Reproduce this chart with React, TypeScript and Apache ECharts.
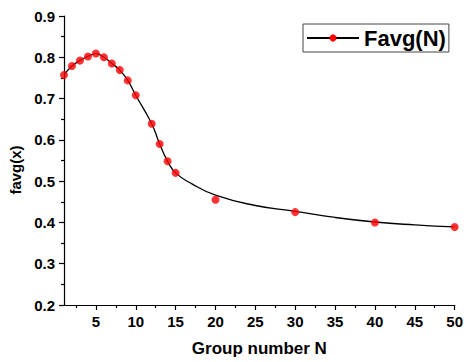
import React, { useEffect, useRef } from "react";
import * as echarts from "echarts";

// Measured points Favg(N)
const groupN = [1, 2, 3, 4, 5, 6, 7, 8, 9, 10, 12, 13, 14, 15, 20, 30, 40, 50];
const favgValues = [0.757, 0.779, 0.792, 0.802, 0.809, 0.8, 0.785, 0.769, 0.744, 0.708, 0.639, 0.59, 0.548, 0.52, 0.455, 0.425, 0.4, 0.389];

// Fitted curve
const fitN = [1, 2, 3, 4, 5, 6, 7, 8, 9, 10, 12, 13, 14, 15, 17, 20, 25, 30, 35, 40, 45, 50];
const fitValues = [0.757, 0.779, 0.792, 0.802, 0.809, 0.8, 0.785, 0.769, 0.744, 0.708, 0.639, 0.59, 0.548, 0.52, 0.494, 0.466, 0.441, 0.427, 0.412, 0.401, 0.394, 0.389];

const xMajorTicks = [5, 10, 15, 20, 25, 30, 35, 40, 45, 50];
const xMinorTicks = [2.5, 7.5, 12.5, 17.5, 22.5, 27.5, 32.5, 37.5, 42.5, 47.5];

const FONT = '"Liberation Sans", Arial, Helvetica, sans-serif';

export default function App() {
  const ref = useRef<HTMLDivElement>(null);
  useEffect(() => {
    if (!ref.current) return;
    const chart = echarts.init(ref.current, undefined, { renderer: "svg" });
    const axisLine = { show: true, lineStyle: { color: "#000", width: 1.2 } };
    chart.setOption({
      animation: false,
      backgroundColor: "#fff",
      textStyle: { fontFamily: FONT },
      grid: { left: 64, right: 7, top: 16, bottom: 51, containLabel: false },
      legend: {
        data: [{ name: "Favg(N)" }],
        left: 303,
        top: 24,
        padding: [3, 3, 3, 3],
        itemWidth: 52,
        itemHeight: 9,
        borderColor: "#444",
        borderWidth: 1,
        textStyle: { fontFamily: FONT, fontWeight: "bold", fontSize: 22, color: "#000", lineHeight: 22 },
      },
      xAxis: [
        {
          type: "value",
          min: 1,
          max: 50,
          position: "bottom",
          name: "Group number N",
          nameLocation: "middle",
          nameGap: 35,
          nameTextStyle: { fontFamily: FONT, fontWeight: "bold", fontSize: 17, color: "#000" },
          axisLine,
          axisTick: { show: true, inside: false, length: 5, customValues: xMajorTicks, lineStyle: { color: "#000", width: 1.2 } },
          axisLabel: { show: true, customValues: xMajorTicks, margin: 9, fontFamily: FONT, fontWeight: "bold", fontSize: 15, color: "#000" },
          splitLine: { show: false },
        },
        {
          type: "value",
          min: 1,
          max: 50,
          position: "bottom",
          axisLine: { show: false },
          axisTick: { show: true, inside: false, length: 3, customValues: xMinorTicks, lineStyle: { color: "#000", width: 1.2 } },
          axisLabel: { show: false },
          splitLine: { show: false },
        },
      ],
      yAxis: {
        type: "value",
        min: 0.2,
        max: 0.9,
        interval: 0.1,
        name: "favg(x)",
        nameLocation: "middle",
        nameGap: 38,
        nameTextStyle: { fontFamily: FONT, fontWeight: "bold", fontSize: 15, color: "#000", padding: [0, 19, 0, 0] },
        axisLine,
        axisTick: { show: true, inside: false, length: 5, lineStyle: { color: "#000", width: 1.2 } },
        minorTick: { show: true, splitNumber: 2, length: 3, lineStyle: { color: "#000", width: 1.2 } },
        axisLabel: {
          margin: 9,
          fontFamily: FONT,
          fontWeight: "bold",
          fontSize: 15,
          color: "#000",
          formatter: (v: number) => v.toFixed(1),
        },
        splitLine: { show: false },
        minorSplitLine: { show: false },
      },
      series: [
        {
          name: "Favg(N)",
          type: "line",
          data: fitN.map((n, i) => [n, fitValues[i]]),
          smooth: 0.5,
          symbol: "circle",
          symbolSize: 8,
          showSymbol: false,
          itemStyle: { color: "#ff0000" },
          lineStyle: { color: "#000", width: 1.3 },
          z: 2,
        },
        {
          name: "points",
          type: "scatter",
          data: groupN.map((n, i) => [n, favgValues[i]]),
          symbol: "circle",
          symbolSize: 8,
          itemStyle: { color: "#ff0000" },
          clip: false,
          z: 3,
        },
      ],
    });
    return () => chart.dispose();
  }, []);
  return <div ref={ref} style={{ position: "fixed", left: 0, top: 0, width: 466, height: 362 }} />;
}
